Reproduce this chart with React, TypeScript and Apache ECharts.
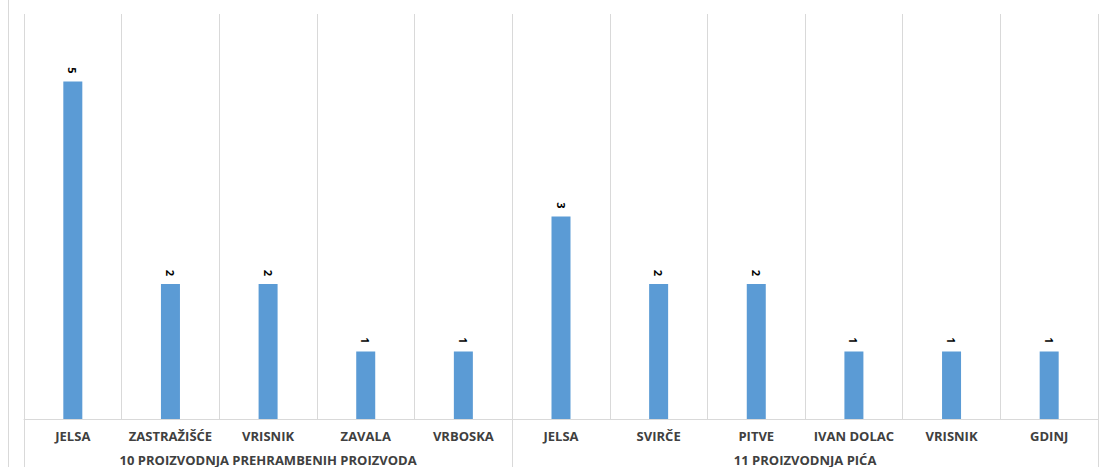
import React, { useEffect, useRef } from "react";
import * as echarts from "echarts";

const categories = [
  "JELSA", "ZASTRAŽIŠĆE", "VRISNIK", "ZAVALA", "VRBOSKA",
  "JELSA", "SVIRČE", "PITVE", "IVAN DOLAC", "VRISNIK", "GDINJ",
];
const values = [5, 2, 2, 1, 1, 3, 2, 2, 1, 1, 1];
const groupNames = ["10 PROIZVODNJA PREHRAMBENIH PROIZVODA", "11 PROIZVODNJA PIĆA"];
const groupSizes = [5, 6];

export default function App() {
  const ref = useRef<HTMLDivElement>(null);
  useEffect(() => {
    if (!ref.current) return;
    const chart = echarts.init(ref.current, null, { renderer: "svg" });
    const boundaries: number[] = [0];
    const centers: number[] = [];
    groupSizes.forEach((s) => {
      const start = boundaries[boundaries.length - 1];
      centers.push(start + s / 2);
      boundaries.push(start + s);
    });
    const gridColor = "#d9d9d9";
    const textColor = "#404040";
    const font = "'Open Sans', 'Liberation Sans', sans-serif";
    chart.setOption({
      animation: false,
      backgroundColor: "#ffffff",
      grid: { left: 24, right: 6, top: 14, bottom: 48, containLabel: false },
      xAxis: [
        {
          type: "category",
          data: categories,
          position: "bottom",
          axisLine: { show: true, lineStyle: { color: gridColor, width: 1 } },
          axisTick: { show: false },
          splitLine: { show: true, interval: 0, lineStyle: { color: gridColor, width: 1 } },
          axisLabel: {
            interval: 0,
            margin: 10,
            color: textColor,
            fontFamily: font,
            fontWeight: "bold",
            fontSize: 13,
          },
        },
        {
          type: "value",
          min: 0,
          max: categories.length,
          position: "bottom",
          axisLine: { show: false },
          splitLine: { show: false },
          axisTick: {
            show: true,
            inside: false,
            length: 48,
            customValues: boundaries,
            lineStyle: { color: gridColor, width: 1 },
          },
          axisLabel: {
            show: true,
            margin: 34,
            customValues: centers,
            formatter: (v: number) => {
              const i = centers.findIndex((c) => Math.abs(c - v) < 1e-6);
              return i >= 0 ? groupNames[i] : "";
            },
            color: textColor,
            fontFamily: font,
            fontWeight: "bold",
            fontSize: 13,
          },
        },
      ],
      yAxis: {
        type: "value",
        min: 0,
        max: 6,
        show: false,
        splitLine: { show: false },
      },
      graphic: [
        {
          type: "line",
          shape: { x1: 8.5, y1: 0, x2: 8.5, y2: 467 },
          style: { stroke: gridColor, lineWidth: 1 },
        },
      ],
      series: [
        {
          type: "bar",
          xAxisIndex: 0,
          data: values,
          barWidth: 19,
          itemStyle: { color: "#5b9bd5" },
          label: {
            show: true,
            position: "top",
            rotate: -90,
            align: "right",
            verticalAlign: "middle",
            distance: 8,
            color: "#000000",
            fontFamily: font,
            fontWeight: "bold",
            fontSize: 11,
          },
        },
      ],
    });
    return () => chart.dispose();
  }, []);
  return (
    <div
      ref={ref}
      style={{ position: "fixed", left: 0, top: 0, width: 1104, height: 467 }}
    />
  );
}
